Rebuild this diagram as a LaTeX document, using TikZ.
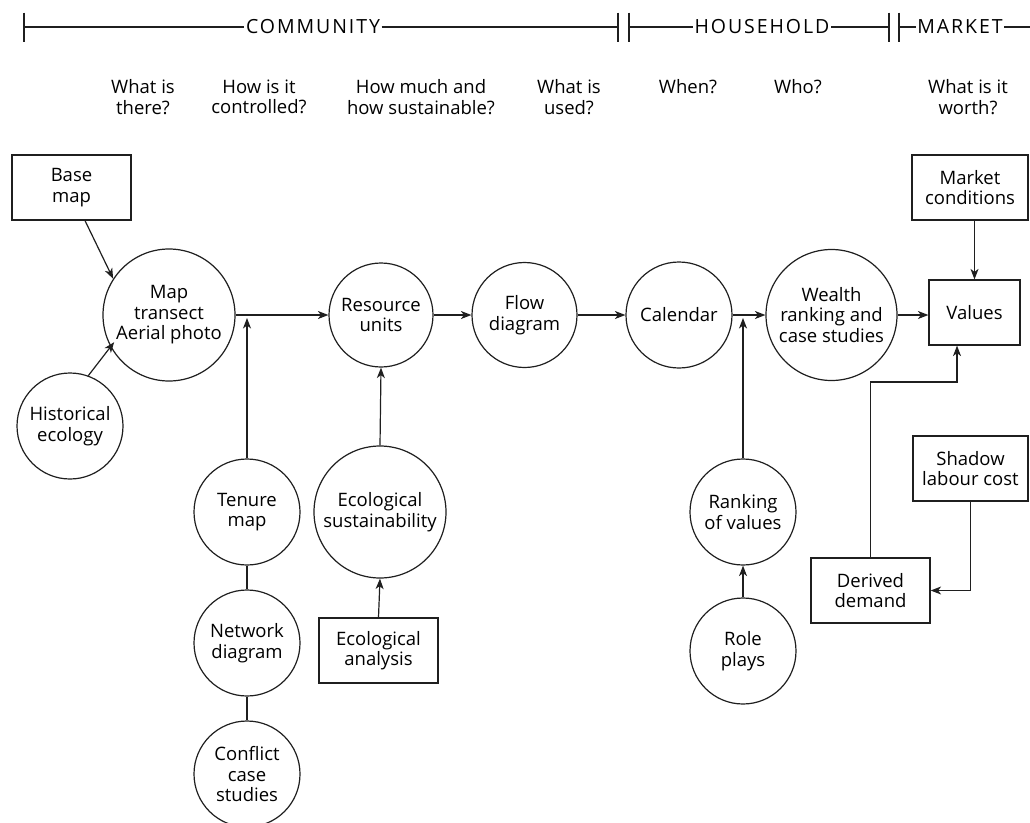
\documentclass[tikz,border=0pt]{standalone}
\usepackage{fontspec}
\setmainfont{Open Sans}
\newfontfamily\headfamily[LetterSpace=10]{Open Sans}
\usetikzlibrary{arrows.meta}
\newcommand{\dfont}{\fontsize{18.5}{20.5}\selectfont}
\newcommand{\hfont}{\headfamily\fontsize{19.5}{21}\selectfont}
\tikzset{
  lbl/.style={font=\dfont, align=center, inner sep=0pt, text=black},
  circ/.style={lbl, draw, circle, minimum size=#1},
  rbox/.style={lbl, draw, rectangle, minimum width=#1, minimum height=65pt},
  arr/.style={-{Stealth[length=10.5pt,width=8pt,inset=3pt]}},
  head/.style={lbl, font=\hfont, inner xsep=1pt},
}
\begin{document}
\begin{tikzpicture}[x=1pt, y=-1pt, line width=1.2pt, color=black!88]
\useasboundingbox (0,0) rectangle (1030,822);
\clip (0,0) rectangle (1030,822);

% ---- top scale: community / household / market ----
\node[head] (comm) at (313,27) {COMMUNITY};
\node[head] (hh)   at (762,27) {HOUSEHOLD};
\node[head] (mk)   at (960,27) {MARKET};
\coordinate (t0) at (24,27);
\coordinate (t1) at (618,27);
\coordinate (t2) at (629,27);
\coordinate (t3) at (889,27);
\coordinate (t4) at (899,27);
\coordinate (t5) at (1030,27);
\foreach \c in {t0,t1,t2,t3,t4}
  \draw ([yshift=14.5pt]\c) -- ([yshift=-14.5pt]\c);
\draw (t0) -- (comm.west);
\draw (comm.east) -- (t1);
\draw (t2) -- (hh.west);
\draw (hh.east) -- (t3);
\draw (t4) -- (mk.west);
\draw (mk.east) -- (t5);

% ---- questions ----
\node[lbl] (q1) at (143,97)   {What is\\there?};
\node[lbl] (q2) at (259,97)   {How is it\\controlled?};
\node[lbl] (q3) at (421,97)   {How much and\\how sustainable?};
\node[lbl] (q4) at (569,97)   {What is\\used?};
\node[lbl] (q5) at (688,87)   {When?};
\node[lbl] (q6) at (798,87)   {Who?};
\node[lbl] (q7) at (968,97)   {What is it\\worth?};

% ---- main chain ----
\node[rbox=119pt] (base)   at (71.5,187.5) {Base\\map};
\node[circ=132pt] (map)    at (169,315)    {Map\\transect\\Aerial photo};
\node[circ=106pt] (hist)   at (70,426)     {Historical\\ecology};
\node[circ=104pt] (res)    at (381,315)    {Resource\\units};
\node[circ=105pt] (flow)   at (524.5,315)  {Flow\\diagram};
\node[circ=106pt] (cal)    at (679,315)    {Calendar};
\node[circ=131pt] (wealth) at (831.5,315)  {Wealth\\ranking and\\case studies};
\node[rbox=91pt]  (val)    at (974.5,312.5){Values};
\node[rbox=116pt] (mkt)    at (970,187.5)  {Market\\conditions};

% ---- branches ----
\node[circ=106pt] (ten)    at (247,512)    {Tenure\\map};
\node[circ=106pt] (net)    at (247,643)    {Network\\diagram};
\node[circ=106pt] (conf)   at (247,774)    {Conflict\\case\\studies};
\node[circ=132pt] (ecos)   at (380,512)    {Ecological\\sustainability};
\node[rbox=119pt] (ecoa)   at (378.5,650.5){Ecological\\analysis};
\node[circ=106pt] (rank)   at (743,512)    {Ranking\\of values};
\node[circ=106pt] (role)   at (743,651)    {Role\\plays};
\node[rbox=115pt] (slc)    at (970.5,468.5){Shadow\\labour cost};
\node[rbox=119pt] (dd)     at (870.5,590.5){Derived\\demand};

% ---- connectors ----
\coordinate (j1) at (247,318);
\coordinate (j2) at (743,318);
\coordinate (k1) at (957,382);

\draw[arr] ([xshift=13.5pt]base.south) -- (map.147);
\draw[arr] (hist.70) -- ([shift={(5pt,2pt)}]map.206);
\draw[arr] (map.east) -- (res.west);
\draw[arr] (res.east) -- (flow.west);
\draw[arr] (flow.east) -- (cal.west);
\draw[arr] (cal.east) -- (wealth.west);
\draw[arr] (wealth.east) -- (wealth.east -| val.west);
\draw[arr] (val.north |- mkt.south) -- (val.north);

\draw[arr] (ten.north) -- (j1);
\draw (ten.south) -- (net.north);
\draw (net.south) -- (conf.north);
\draw[arr] (ecos.north) -- (res.south);
\draw[arr] (ecoa.north) -- (ecos.south);
\draw[arr] (rank.north) -- (j2);
\draw[arr] (role.north) -- (rank.south);

\draw[arr] (dd.north) |- (k1) -- (k1 |- val.south);
\draw[arr] (slc.south) |- (dd.east);
\end{tikzpicture}
\end{document}
